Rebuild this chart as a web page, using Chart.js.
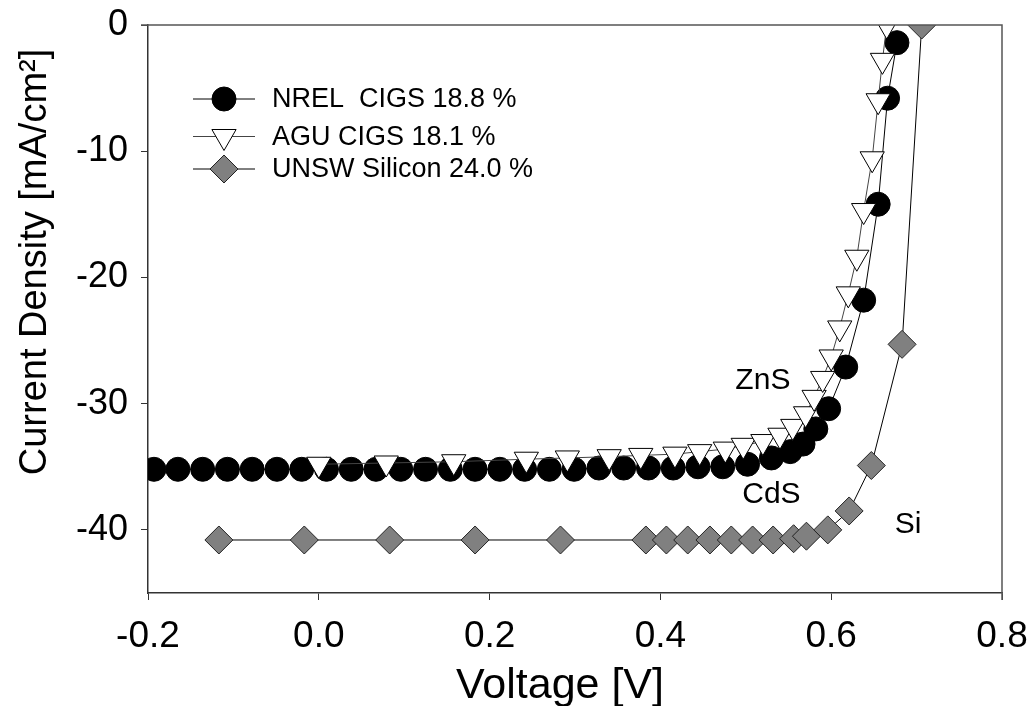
<!DOCTYPE html>
<html>
<head>
<meta charset="utf-8">
<script src="https://cdn.jsdelivr.net/npm/chart.js@4.4.1/dist/chart.umd.min.js"></script>
<style>
  html, body { margin: 0; padding: 0; background: #fff; }
  #mycanvas { display: block; }
</style>
</head>
<body>
<canvas id="mycanvas" width="1028" height="706"></canvas>
<script>
// J-V curves, voltage in V, current density in mA/cm2
var nrelV = [-0.193, -0.165, -0.136, -0.107, -0.078, -0.049, -0.020, 0.009, 0.038, 0.067, 0.096, 0.125,
  0.154, 0.183, 0.212, 0.241, 0.270, 0.299, 0.328, 0.357, 0.386, 0.415, 0.444, 0.473, 0.502,
  0.530, 0.552, 0.567, 0.582, 0.597, 0.617, 0.638, 0.655, 0.666, 0.677];
var nrelJ = [-35.2, -35.2, -35.2, -35.2, -35.2, -35.2, -35.2, -35.2, -35.2, -35.2, -35.2, -35.2,
  -35.2, -35.2, -35.2, -35.2, -35.2, -35.2, -35.1, -35.1, -35.1, -35.1, -35.0, -35.0, -34.8,
  -34.3, -33.8, -33.2, -32.0, -30.4, -27.1, -21.8, -14.2, -5.8, -1.4];

var aguV = [0.000, 0.079, 0.158, 0.243, 0.291, 0.340, 0.377, 0.417, 0.446, 0.476, 0.497, 0.520,
  0.540, 0.555, 0.570, 0.580, 0.590, 0.600, 0.610, 0.620, 0.630, 0.638, 0.648, 0.655, 0.660, 0.665];
var aguJ = [-34.8, -34.7, -34.6, -34.4, -34.3, -34.2, -34.1, -34.0, -33.8, -33.6, -33.3, -33.0,
  -32.5, -31.8, -30.8, -29.5, -28.0, -26.3, -24.0, -21.3, -18.4, -14.7, -10.6, -6.0, -2.8, 0.0];

var unswV = [-0.117, -0.017, 0.083, 0.183, 0.283, 0.383, 0.407, 0.432, 0.458, 0.483, 0.508, 0.532,
  0.556, 0.571, 0.596, 0.621, 0.647, 0.683, 0.706];
var unswJ = [-40.8, -40.8, -40.8, -40.8, -40.8, -40.8, -40.8, -40.8, -40.8, -40.8, -40.8, -40.8,
  -40.7, -40.5, -40.0, -38.5, -34.9, -25.3, 0.0];

var seriesNames = ['NREL  CIGS 18.8 %', 'AGU CIGS 18.1 %', 'UNSW Silicon 24.0 %'];
var xTicks = [-0.2, 0.0, 0.2, 0.4, 0.6, 0.8];
var yTicks = [0, -10, -20, -30, -40];
var xTitle = 'Voltage [V]';
var yTitle = 'Current Density [mA/cm\u00b2]';
var notes = [
  { text: 'ZnS', x: 0.52, y: -28.2 },
  { text: 'CdS', x: 0.53, y: -37.2 },
  { text: 'Si', x: 0.69, y: -39.6 }
];

var FONT = "'Liberation Sans', Arial, sans-serif";

function pairs(xs, ys) {
  return xs.map(function (x, i) { return { x: x, y: ys[i] }; });
}

// legend with a short line through the marker
var lineLegend = {
  id: 'lineLegend',
  afterDraw: function (chart) {
    var ctx = chart.ctx;
    var rows = [99, 136.5, 169];
    ctx.save();
    chart.data.datasets.forEach(function (ds, i) {
      var y = rows[i];
      ctx.strokeStyle = ds.borderColor;
      ctx.lineWidth = 1;
      ctx.beginPath();
      ctx.moveTo(193, y);
      ctx.lineTo(255, y);
      ctx.stroke();
      ctx.fillStyle = ds.pointBackgroundColor;
      ctx.strokeStyle = ds.pointBorderColor;
      ctx.lineWidth = ds.pointBorderWidth;
      Chart.helpers.drawPoint(ctx, {
        pointStyle: ds.pointStyle,
        rotation: ds.pointRotation || 0,
        radius: ds.pointRadius,
        borderWidth: ds.pointBorderWidth
      }, 224, y);
      ctx.fillStyle = '#000';
      ctx.font = '27px ' + FONT;
      ctx.textBaseline = 'middle';
      ctx.textAlign = 'left';
      ctx.fillText(seriesNames[i], 272, y + 1);
    });
    ctx.restore();
  }
};

// frame, curve notes and the two axis titles
var notesAndFrame = {
  id: 'notesAndFrame',
  afterDatasetsDraw: function (chart) {
    var ctx = chart.ctx;
    var xs = chart.scales.x, ys = chart.scales.y;
    var a = chart.chartArea;
    ctx.save();
    ctx.strokeStyle = '#555';
    ctx.lineWidth = 1.5;
    ctx.beginPath();
    ctx.moveTo(a.left - 7, a.top);
    ctx.lineTo(a.right, a.top);
    ctx.lineTo(a.right, a.bottom + 7);
    ctx.stroke();
    ctx.fillStyle = '#000';
    ctx.font = '30px ' + FONT;
    ctx.textAlign = 'center';
    ctx.textBaseline = 'middle';
    notes.forEach(function (n) {
      ctx.fillText(n.text, xs.getPixelForValue(n.x), ys.getPixelForValue(n.y));
    });
    ctx.font = '43px ' + FONT;
    ctx.fillText(xTitle, 560, 686);
    ctx.translate(36, 262);
    ctx.rotate(-Math.PI / 2);
    ctx.font = '38px ' + FONT;
    ctx.fillText(yTitle, 0, 0);
    ctx.restore();
  }
};

function noOverhang(scale) {
  scale.paddingLeft = 0;
  scale.paddingRight = 0;
  scale.paddingTop = 0;
  scale.paddingBottom = 0;
}

var chartdata = {
  datasets: [
    {
      label: seriesNames[0],
      data: pairs(nrelV, nrelJ),
      borderColor: '#000',
      borderWidth: 1,
      pointStyle: 'circle',
      pointRadius: 12,
      pointBackgroundColor: '#000',
      pointBorderColor: '#000',
      pointBorderWidth: 1,
      order: 3
    },
    {
      label: seriesNames[1],
      data: pairs(aguV, aguJ),
      borderColor: '#444',
      borderWidth: 1,
      pointStyle: 'triangle',
      pointRotation: 180,
      pointRadius: 14,
      pointBackgroundColor: '#fff',
      pointBorderColor: '#000',
      pointBorderWidth: 1,
      order: 2
    },
    {
      label: seriesNames[2],
      data: pairs(unswV, unswJ),
      borderColor: '#000',
      borderWidth: 1,
      pointStyle: 'rectRot',
      pointRadius: 14,
      pointBackgroundColor: '#808080',
      pointBorderColor: '#222',
      pointBorderWidth: 1,
      order: 1
    }
  ]
};

var ctx = document.querySelector('#mycanvas');

var ivChart = new Chart(ctx, {
  type: 'line',
  data: chartdata,
  plugins: [notesAndFrame, lineLegend],
  options: {
    responsive: false,
    animation: false,
    events: [],
    layout: { padding: { top: 25, right: 26, left: 0, bottom: 0 } },
    plugins: { legend: { display: false }, tooltip: { enabled: false } },
    scales: {
      x: {
        type: 'linear',
        min: -0.2,
        max: 0.8,
        afterFit: function (scale) { scale.height = 113; noOverhang(scale); },
        afterBuildTicks: function (scale) {
          scale.ticks = xTicks.map(function (v) { return { value: v }; });
        },
        ticks: {
          color: '#000',
          font: { family: FONT, size: 37 },
          padding: 15,
          maxRotation: 0,
          callback: function (v) { return v.toFixed(1); }
        },
        grid: { drawOnChartArea: false, drawTicks: true, tickLength: 7, color: '#333' },
        border: { color: '#333', width: 1.5 }
      },
      y: {
        type: 'linear',
        min: -45,
        max: 0,
        afterFit: function (scale) { scale.width = 148; noOverhang(scale); },
        afterBuildTicks: function (scale) {
          scale.ticks = yTicks.map(function (v) { return { value: v }; });
        },
        ticks: {
          color: '#000',
          font: { family: FONT, size: 36 },
          padding: 13
        },
        grid: { drawOnChartArea: false, drawTicks: true, tickLength: 7, color: '#333' },
        border: { color: '#333', width: 1.5 }
      }
    }
  }
});
</script>
</body>
</html>
